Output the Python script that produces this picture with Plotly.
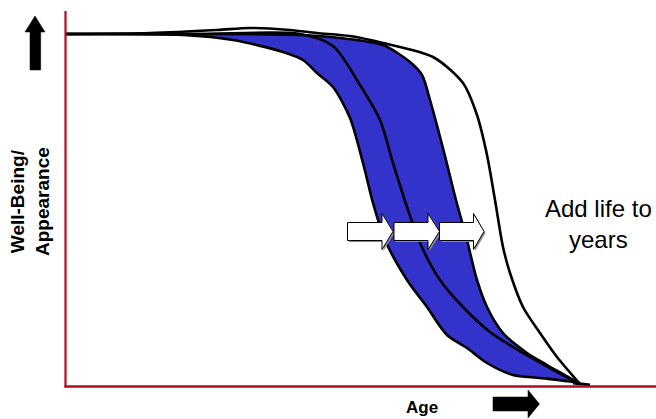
import plotly.graph_objects as go

# Well-being / appearance over age: four decline curves (arbitrary units)
# Age axis 0..590, well-being axis 0..374
lower_age = [0, 117, 167, 217, 237, 251, 267, 284, 297, 307, 319, 341, 361, 381, 401, 421, 447, 474, 507, 514]
lower_level = [350, 349, 344, 332, 324, 311, 297, 266, 221, 181, 144, 104, 77, 49, 36, 21, 9, 6, 2, 0]

mid_age = [0, 134, 234, 267, 294, 314, 327, 341, 354, 374, 397, 424, 457, 491, 514]
mid_level = [350, 350, 350, 338, 299, 264, 221, 177, 141, 104, 77, 52, 31, 12, 0]

upper_age = [0, 134, 234, 274, 317, 344, 356, 364, 373, 380, 390, 401, 411, 421, 437, 461, 481, 504, 514]
upper_level = [350, 350, 349, 346, 339, 322, 309, 284, 251, 224, 184, 144, 104, 77, 51, 31, 19, 6, 0]

outer_age = [0, 84, 151, 184, 224, 251, 284, 317, 367, 397, 411, 421, 429, 437, 444, 457, 474, 491, 514]
outer_level = [350, 351, 354, 356, 354, 351, 348, 341, 327, 301, 269, 229, 184, 137, 111, 77, 51, 27, 0]

tail_age = [507, 524]
tail_level = [1, -1]

BLUE = "#3333CC"
RED = "#AE0E23"

W, H = 656, 419
ML, MR, MT, MB = 60, 0, 10, 27
PW, PH = W - ML - MR, H - MT - MB


def fx(p):
    return (p - ML) / PW


def fy(p):
    return (H - MB - p) / PH


def poly(points):
    return "M " + " L ".join(f"{fx(x):.5f},{fy(y):.5f}" for x, y in points) + " Z"


fig = go.Figure()

# shaded band between the lower and upper curves
fig.add_trace(go.Scatter(
    x=lower_age + upper_age[::-1],
    y=lower_level + upper_level[::-1],
    fill="toself", fillcolor=BLUE, mode="lines",
    line=dict(width=0, shape="spline", smoothing=0.8, color=BLUE),
    hoverinfo="skip", showlegend=False,
))

for ax, ay in [(lower_age, lower_level), (mid_age, mid_level),
               (upper_age, upper_level), (outer_age, outer_level)]:
    fig.add_trace(go.Scatter(
        x=ax, y=ay, mode="lines",
        line=dict(color="black", width=2.6, shape="spline", smoothing=0.8),
        hoverinfo="skip", showlegend=False,
    ))

fig.add_trace(go.Scatter(
    x=tail_age, y=tail_level, mode="lines",
    line=dict(color="black", width=3), hoverinfo="skip", showlegend=False,
))

shapes = []

# red axis lines
shapes.append(dict(type="line", xref="paper", yref="paper",
                   x0=fx(65.5), x1=fx(65.5), y0=fy(11), y1=fy(387.5),
                   line=dict(color=RED, width=2.2)))
shapes.append(dict(type="line", xref="paper", yref="paper",
                   x0=fx(64.5), x1=fx(656), y0=fy(386.5), y1=fy(386.5),
                   line=dict(color=RED, width=2.6)))

# black direction arrows
up_arrow = [(35, 16), (45, 32), (40.7, 32), (40.7, 70), (30, 70), (30, 32), (25, 32)]
right_arrow = [(493, 397), (528, 397), (528, 390), (539.5, 404), (528, 418), (528, 411), (493, 411)]
for pts in (up_arrow, right_arrow):
    shapes.append(dict(type="path", xref="paper", yref="paper", path=poly(pts),
                       fillcolor="black", line=dict(color="black", width=0.5)))

# white block arrows with a soft grey shadow
def block_arrow(x0, x1, tip, dx=0.0, dy=0.0):
    yc = 231.5
    pts = [(x0, 222.5), (x1, 222.5), (x1, 213.5), (tip, yc), (x1, 249.5), (x1, 240.5), (x0, 240.5)]
    return [(x + dx, y + dy) for x, y in pts]


for x0, x1, tip in [(347.5, 382, 393), (394, 428, 439.5), (439.5, 473.5, 484)]:
    shapes.append(dict(type="path", xref="paper", yref="paper",
                       path=poly(block_arrow(x0, x1, tip, 1.5, 1.5)),
                       fillcolor="#8a8a8a", line=dict(width=0)))
    shapes.append(dict(type="path", xref="paper", yref="paper",
                       path=poly(block_arrow(x0, x1, tip)),
                       fillcolor="white", line=dict(color="black", width=1)))

annotations = [
    dict(text="Add life to<br>years", xref="paper", yref="paper",
         x=fx(598), y=fy(224), xanchor="center", yanchor="middle", showarrow=False,
         font=dict(family="Liberation Sans, Arial", size=24, color="black")),
    dict(text="<b>Age</b>", xref="paper", yref="paper",
         x=fx(421.5), y=fy(407), xanchor="center", yanchor="middle", showarrow=False,
         font=dict(family="Liberation Sans, Arial", size=17, color="black")),
    dict(text="<b>Well-Being/<br>Appearance</b>", xref="paper", yref="paper",
         x=fx(30), y=fy(202), xanchor="center", yanchor="middle", showarrow=False,
         textangle=-90,
         font=dict(family="Liberation Sans, Arial", size=19, color="black")),
]

fig.update_layout(
    width=W, height=H,
    margin=dict(l=ML, r=MR, t=MT, b=MB),
    paper_bgcolor="white", plot_bgcolor="white",
    xaxis=dict(range=[-6, 590], visible=False, fixedrange=True),
    yaxis=dict(range=[-8, 374], visible=False, fixedrange=True),
    shapes=shapes, annotations=annotations,
    showlegend=False,
)

fig.write_html("out.html")
